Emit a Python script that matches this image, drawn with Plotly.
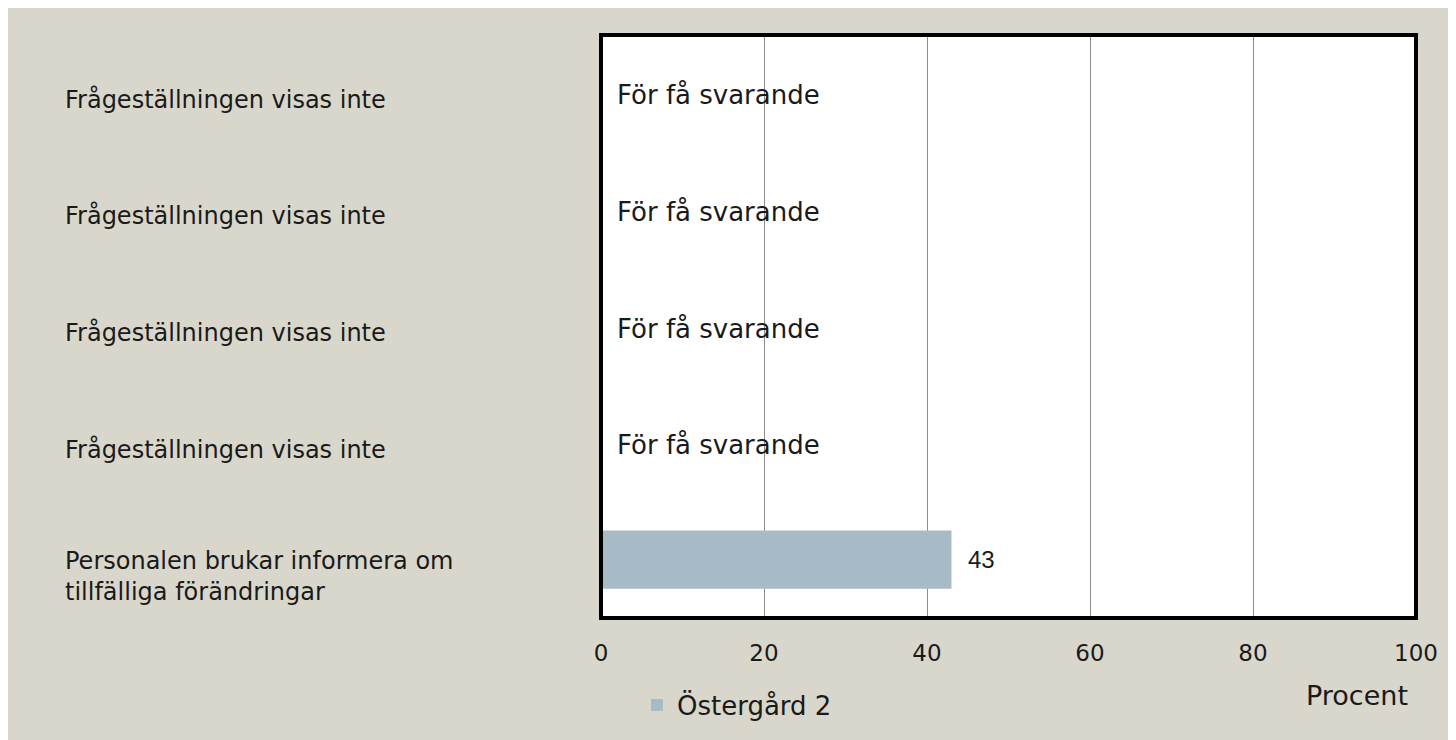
import plotly.graph_objects as go

# ---- data ----
categories = [
    "Personalen brukar informera om<br>tillfälliga förändringar",
    "Frågeställningen visas inte",
    "Frågeställningen visas inte",
    "Frågeställningen visas inte",
    "Frågeställningen visas inte",
]
values = [43, None, None, None, None]
missing_text = "För få svarande"
series_name = "Östergård 2"
x_ticks = [0, 20, 40, 60, 80, 100]
x_title = "Procent"

BG = "#D9D7CB"
BAR = "#A7BBC6"
FONT = "DejaVu Sans"
TXT = "#1a1a1a"
W, H = 1456, 740
ML, MR, MT, MB = 593, 48, 27, 130
PW = W - ML - MR
PH = H - MT - MB

ypos = list(range(len(categories)))

fig = go.Figure()
fig.add_trace(go.Bar(
    x=[v if v is not None else 0 for v in values],
    y=ypos,
    orientation="h",
    marker=dict(color=BAR, line=dict(width=0)),
    width=0.5,
    name=series_name,
    showlegend=True,
    hoverinfo="skip",
))

annotations = []
for i, (cat, v) in enumerate(zip(categories, values)):
    nlines = cat.count("<br>") + 1
    annotations.append(dict(
        x=(55 - ML) / PW, xref="paper", y=i, yref="y",
        text=cat, showarrow=False, xanchor="left", yanchor="middle",
        align="left", yshift=-6 - 11 * (nlines - 1),
        font=dict(family=FONT, size=24, color=TXT),
    ))
    if v is None:
        annotations.append(dict(
            x=0, xref="x", y=i, yref="y", text=missing_text, showarrow=False,
            xanchor="left", yanchor="middle", xshift=14, yshift=-2,
            font=dict(family=FONT, size=26, color=TXT),
        ))
    else:
        annotations.append(dict(
            x=v, xref="x", y=i, yref="y", text=str(v), showarrow=False,
            xanchor="left", yanchor="middle", xshift=15,
            font=dict(family="Liberation Sans", size=24, color=TXT),
        ))

annotations.append(dict(
    x=(1349 - ML) / PW, xref="paper", y=-(687 - MT - PH) / PH, yref="paper",
    text=x_title, showarrow=False, xanchor="center", yanchor="middle",
    font=dict(family=FONT, size=27, color=TXT),
))

fig.update_layout(
    width=W, height=H,
    margin=dict(l=ML, r=MR, t=MT, b=MB, pad=0),
    paper_bgcolor=BG,
    plot_bgcolor="white",
    bargap=0.5,
    xaxis=dict(
        range=[0, 100], tickvals=x_ticks, ticktext=[str(t) for t in x_ticks],
        showgrid=True, gridcolor="#8c8c8c", gridwidth=1,
        zeroline=False, showline=False,
        ticks="outside", ticklen=14, tickcolor="rgba(0,0,0,0)",
        tickfont=dict(family=FONT, size=23, color=TXT),
        fixedrange=True,
    ),
    yaxis=dict(
        range=[-0.5, len(categories) - 0.5], showticklabels=False,
        showgrid=False, zeroline=False, showline=False, fixedrange=True,
    ),
    legend=dict(
        orientation="h", x=(629 - ML) / PW, xanchor="left",
        y=-(697 - MT - PH) / PH, yanchor="middle",
        font=dict(family=FONT, size=26, color=TXT),
        bgcolor="rgba(0,0,0,0)",
    ),
    annotations=annotations,
    shapes=[
        dict(type="rect", xref="paper", yref="paper", x0=0, x1=1, y0=0, y1=1,
             line=dict(color="black", width=4), layer="above"),
    ],
)

fig.write_html("out.html")
